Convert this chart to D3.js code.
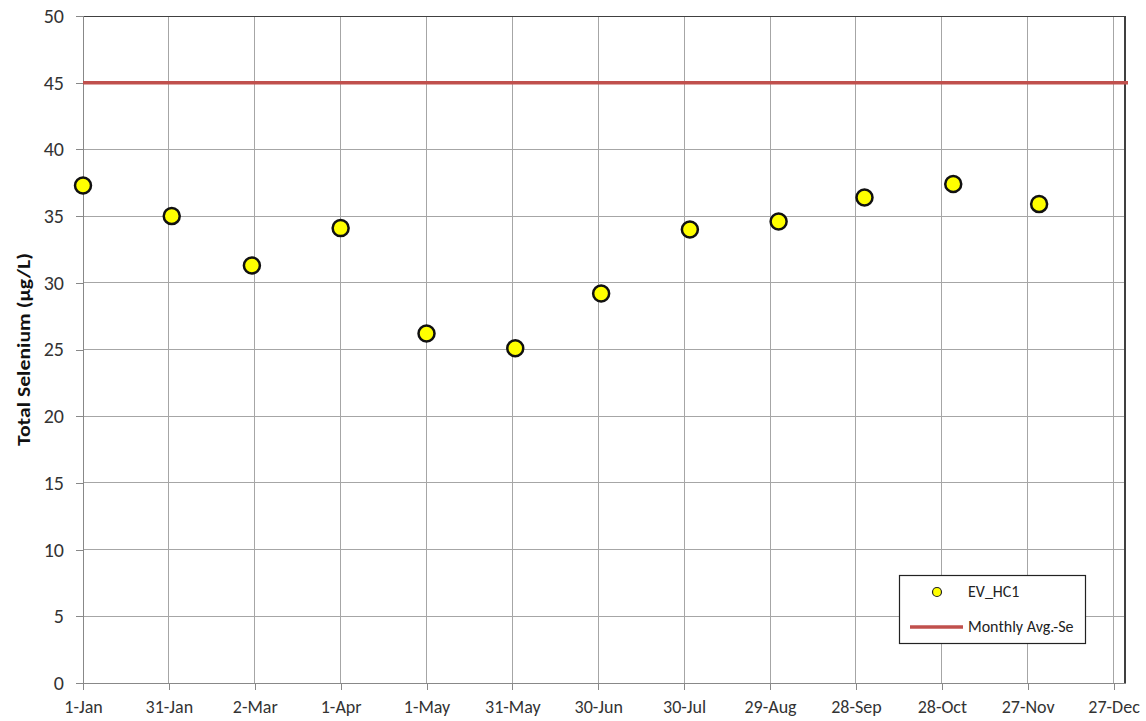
<!DOCTYPE html>
<html><head><meta charset="utf-8">
<script src="https://cdn.jsdelivr.net/npm/d3@7"></script>
<style>body{margin:0;background:#fff}svg{display:block}text{font-family:Calibri,Carlito,"Open Sans",Arial,sans-serif}</style>
</head><body>
<svg id="chart" width="1146" height="721"></svg>
<script>
const sampleDates = ["2015-01-01","2015-02-01","2015-03-01","2015-04-01","2015-05-01","2015-06-01","2015-07-01","2015-08-01","2015-09-01","2015-10-01","2015-11-01","2015-12-01"];
const seValues = [37.3, 35.0, 31.3, 34.1, 26.2, 25.1, 29.2, 34.0, 34.6, 36.4, 37.4, 35.9];
const monthlyAvgSe = 45;
const xTickDates = ["2015-01-01","2015-01-31","2015-03-02","2015-04-01","2015-05-01","2015-05-31","2015-06-30","2015-07-30","2015-08-29","2015-09-28","2015-10-28","2015-11-27","2015-12-27"];
const yTicks = [0,5,10,15,20,25,30,35,40,45,50];
const seriesNames = ["EV_HC1","Monthly Avg.-Se"];

const parse = d3.utcParse("%Y-%m-%d");
const svg = d3.select("#chart");
const L = 83, R = 1125, T = 16, B = 683;
const x = d3.scaleUtc().domain([parse("2015-01-01"), parse("2015-12-31")]).range([L, R]);
const y = d3.scaleLinear().domain([0, 50]).range([B, T]);
const fmt = d3.utcFormat("%-d-%b");
const grid = "#a6a6a6";

svg.append("g").selectAll("line").data(yTicks).join("line")
  .attr("x1", L).attr("x2", R).attr("y1", d => y(d)).attr("y2", d => y(d))
  .attr("stroke", grid).attr("stroke-width", 1).attr("shape-rendering","crispEdges");
svg.append("g").selectAll("line").data(xTickDates).join("line")
  .attr("x1", d => x(parse(d))).attr("x2", d => x(parse(d))).attr("y1", T).attr("y2", B)
  .attr("stroke", grid).attr("stroke-width", 1).attr("shape-rendering","crispEdges");
svg.append("line").attr("x1", L).attr("x2", R).attr("y1", T).attr("y2", T).attr("stroke", "#404040").attr("shape-rendering","crispEdges");
svg.append("line").attr("x1", R).attr("x2", R).attr("y1", T).attr("y2", B).attr("stroke", "#404040").attr("stroke-width",1.5).attr("shape-rendering","crispEdges");

const yAxis = d3.axisLeft(y).tickValues(yTicks).tickSize(7).tickPadding(12);
const gy = svg.append("g").attr("transform", `translate(${L},0)`).call(yAxis);
gy.selectAll("path,line").attr("stroke", "#888").attr("shape-rendering","crispEdges");
gy.selectAll("text").attr("font-size", 20).attr("fill", "#333");

const xAxis = d3.axisBottom(x).tickValues(xTickDates.map(parse)).tickFormat(fmt).tickSize(7).tickSizeOuter(0).tickPadding(10);
const gx = svg.append("g").attr("transform", `translate(0,${B})`).call(xAxis);
gx.selectAll("path,line").attr("stroke", "#888").attr("shape-rendering","crispEdges");
gx.selectAll("text").attr("font-size", 18).attr("fill", "#333");

svg.append("text").attr("transform", `translate(30,${(253+446)/2}) rotate(-90)`)
  .attr("text-anchor","middle").attr("font-size", 19).attr("font-weight","bold").attr("fill","#111")
  .attr("textLength", 193).attr("lengthAdjust","spacingAndGlyphs")
  .text("Total Selenium (µg/L)");

svg.append("line").attr("x1", L).attr("x2", R + 3).attr("y1", y(monthlyAvgSe)).attr("y2", y(monthlyAvgSe))
  .attr("stroke", "#C0504D").attr("stroke-width", 3.5);

const pts = sampleDates.map((d,i) => ({date: parse(d), v: seValues[i]}));
svg.append("g").selectAll("circle").data(pts).join("circle")
  .attr("cx", d => x(d.date)).attr("cy", d => y(d.v)).attr("r", 8)
  .attr("fill", "#FFFF00").attr("stroke", "#111").attr("stroke-width", 2.5);

const lg = svg.append("g");
lg.append("rect").attr("x", 899.5).attr("y", 575.5).attr("width", 186).attr("height", 68)
  .attr("fill", "#fff").attr("stroke", "#222").attr("stroke-width", 1.2);
lg.append("circle").attr("cx", 937).attr("cy", 592).attr("r", 4.5).attr("fill", "#FFFF00").attr("stroke", "#222").attr("stroke-width", 1.2);
lg.append("text").attr("x", 968).attr("y", 597).attr("font-size", 16).attr("fill", "#222").text(seriesNames[0]);
lg.append("line").attr("x1", 910).attr("x2", 963).attr("y1", 627).attr("y2", 627).attr("stroke", "#C0504D").attr("stroke-width", 3.5);
lg.append("text").attr("x", 968).attr("y", 632).attr("font-size", 16).attr("fill", "#222").text(seriesNames[1]);
</script>
</body></html>
